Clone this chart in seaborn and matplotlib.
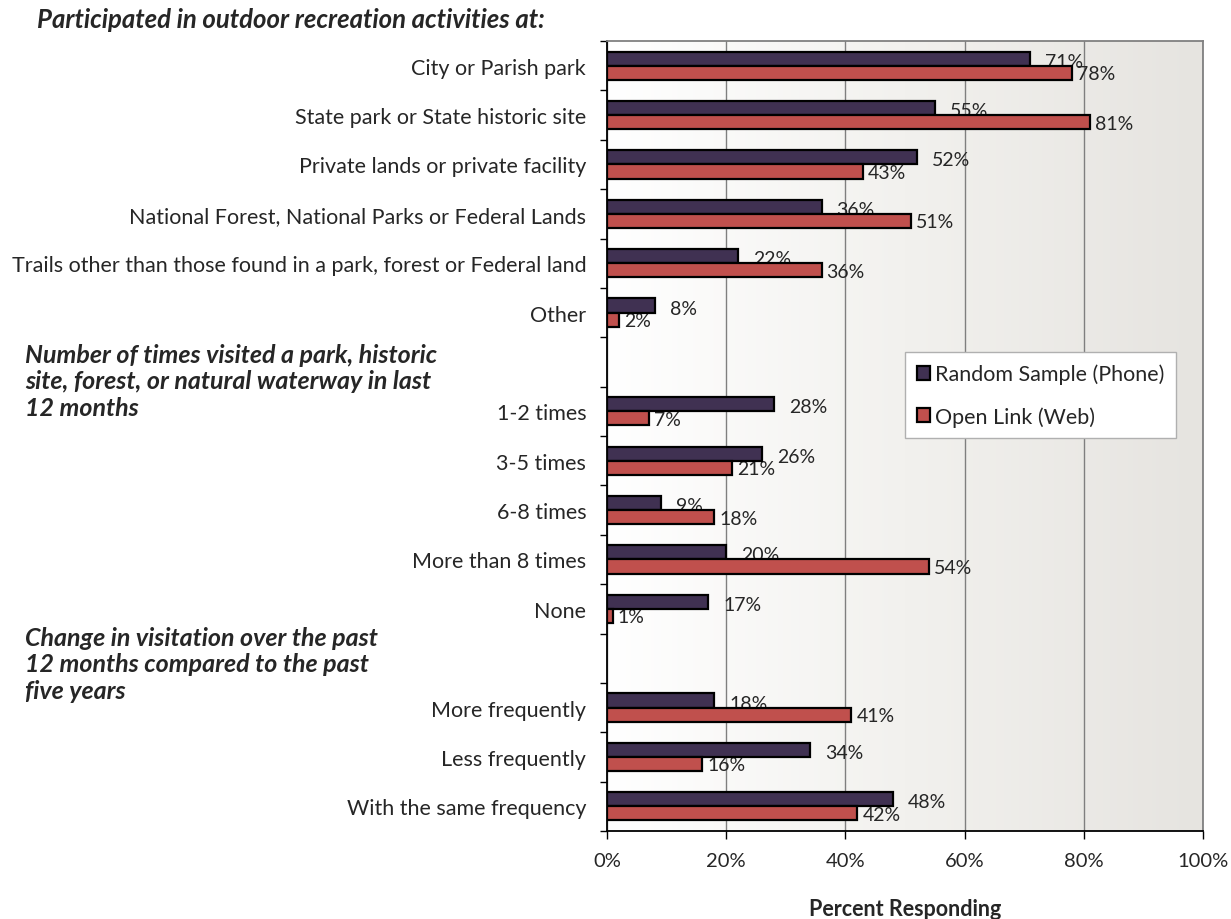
import numpy as np
import pandas as pd
import matplotlib.pyplot as plt
import seaborn as sns
from matplotlib.colors import LinearSegmentedColormap

# 데이터
categories = ['City or Parish park', 'State park or State historic site',
              'Private lands or private facility',
              'National Forest, National Parks or Federal Lands',
              'Trails other than those found in a park, forest or Federal land',
              'Other', '', '1-2 times', '3-5 times', '6-8 times',
              'More than 8 times', 'None', ' ', 'More frequently',
              'Less frequently', 'With the same frequency']
phone = [71, 55, 52, 36, 22, 8, np.nan, 28, 26, 9, 20, 17, np.nan, 18, 34, 48]
web = [78, 81, 43, 51, 36, 2, np.nan, 7, 21, 18, 54, 1, np.nan, 41, 16, 42]
series = ['Random Sample (Phone)', 'Open Link (Web)']
colors = ['#403152', '#C0504D']
headers = ['Participated in outdoor recreation activities at:',
           'Number of times visited a park, historic\nsite, forest, or natural waterway in last\n12 months',
           'Change in visitation over the past\n12 months compared to the past\nfive years']

df = pd.DataFrame({
    'cat': categories * 2,
    'pct': phone + web,
    'src': [series[0]] * len(categories) + [series[1]] * len(categories),
})

sns.set_style('white')
plt.rcParams['font.family'] = ['Lato', 'DejaVu Sans']

fig = plt.figure(figsize=(12.31, 9.2), dpi=100)
ax = fig.add_axes([607 / 1231, 1 - 832 / 920, 596 / 1231, 790 / 920])

sns.barplot(data=df, y='cat', x='pct', hue='src', order=categories,
            hue_order=series, palette=colors, saturation=1, width=0.57,
            errorbar=None, edgecolor='black', linewidth=1.6, orient='h', ax=ax)

# 배경 그라데이션
cmap = LinearSegmentedColormap.from_list('bg', ['#FFFFFF', '#F2F1EE', '#E6E4E0'])
ax.imshow(np.linspace(0, 1, 256).reshape(1, -1), cmap=cmap, aspect='auto',
          extent=[0, 100, len(categories) - 0.5, -0.5], zorder=0)
ax.set_xlim(0, 100)
ax.set_ylim(len(categories) - 0.5, -0.5)

# 값 레이블 (막대 아래에 그려짐)
for cont, dx, dy in zip(ax.containers, [15, 5], [-2.5, -1]):
    for p in cont:
        w = p.get_width()
        if not np.isfinite(w) or w == 0:
            continue
        ax.annotate(f'{w:.0f}%', (w, p.get_y() + p.get_height() / 2),
                    xytext=(dx * 0.72, dy * 0.72), textcoords='offset points',
                    va='center', ha='left', fontsize=14, zorder=0.8)

# 축 설정
ax.set_xticks(range(0, 101, 20))
ax.set_xticklabels([f'{v}%' for v in range(0, 101, 20)], fontsize=14.5)
ax.set_yticks(range(len(categories)))
ax.set_yticklabels(categories, fontsize=15.5)
ax.set_yticks(np.arange(-0.5, len(categories), 1), minor=True)
ax.tick_params(axis='y', which='major', length=0, pad=15)
ax.tick_params(axis='y', which='minor', length=5, width=1, color='black', left=True)
ax.tick_params(axis='x', length=6, width=1, color='black', pad=9, bottom=True)
ax.set_xlabel('Percent Responding', fontsize=15.5, fontweight='bold', va='center')
ax.xaxis.set_label_coords(0.5, -(910 - 832) / 790)
ax.set_ylabel('')

ax.grid(axis='x', color='#7F7F7F', linewidth=1)
ax.set_axisbelow(True)
for s in ['left', 'bottom']:
    ax.spines[s].set_color('black')
    ax.spines[s].set_linewidth(1.3)
for s in ['top', 'right']:
    ax.spines[s].set_color('#808080')
    ax.spines[s].set_linewidth(1.3)

# 범례
handles, labels = ax.get_legend_handles_labels()
ax.legend(handles, labels, loc='upper left',
          bbox_to_anchor=(905 / 1231, 1 - 353 / 920), bbox_transform=fig.transFigure,
          fontsize=15.5, frameon=True, fancybox=False, edgecolor='#B0B0B0',
          handlelength=0.6, handleheight=0.6, handletextpad=0.25,
          labelspacing=1.0, borderpad=0.55, borderaxespad=0, framealpha=1)

# 섹션 제목
fig.text(37 / 1231, 1 - 20 / 920, headers[0], fontsize=18.5, fontweight='bold',
         style='italic', va='center', ha='left')
fig.text(25 / 1231, 1 - 382 / 920, headers[1], fontsize=18, fontweight='bold',
         style='italic', va='center', ha='left', linespacing=1.2)
fig.text(25 / 1231, 1 - 665 / 920, headers[2], fontsize=18, fontweight='bold',
         style='italic', va='center', ha='left', linespacing=1.2)

fig.savefig('out.png', dpi=100)
